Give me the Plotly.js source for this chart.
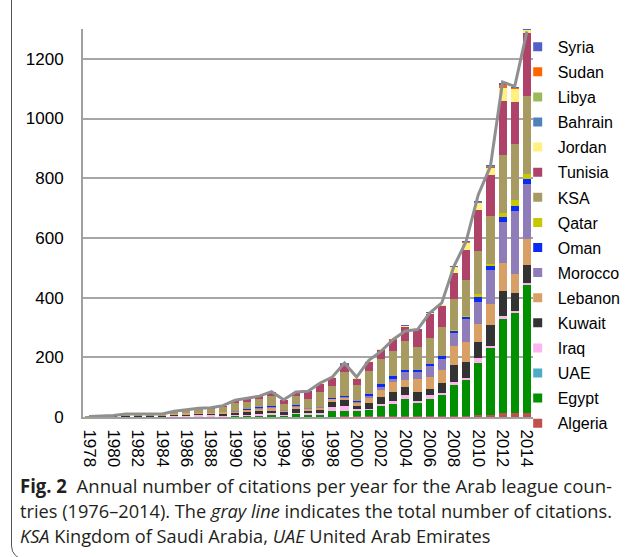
<!DOCTYPE html>
<html><head><meta charset="utf-8">
<script src="https://cdn.plot.ly/plotly-3.0.1.min.js"></script>
<style>
body{margin:0;background:#fff;}
#wrap{position:relative;width:625px;height:557px;overflow:hidden;background:#fff;}
#chart{position:absolute;left:0;top:0;width:625px;height:557px;}
#frame{position:absolute;left:11px;top:-30px;width:700px;height:590px;border:1.3px solid #555;border-radius:14px;box-sizing:border-box;pointer-events:none;}
.cap{position:absolute;left:20px;white-space:nowrap;font-family:"Open Sans","Noto Sans",sans-serif;font-size:19px;line-height:25px;color:#231f20;transform-origin:0 50%;}
.cap b{font-weight:700;}
</style></head>
<body>
<div id="wrap">
<div id="chart"></div>
<div id="frame"></div>
<div class="cap" id="c1" style="top:474px"><b>Fig. 2</b>&nbsp;&nbsp;Annual number of citations per year for the Arab league coun-</div>
<div class="cap" id="c2" style="top:499px">tries (1976–2014). The <i>gray line</i> indicates the total number of citations.</div>
<div class="cap" id="c3" style="top:524px"><i>KSA</i> Kingdom of Saudi Arabia, <i>UAE</i> United Arab Emirates</div>
</div>
<script>
var years = [1978,1979,1980,1981,1982,1983,1984,1985,1986,1987,1988,1989,1990,1991,1992,1993,1994,1995,1996,1997,1998,1999,2000,2001,2002,2003,2004,2005,2006,2007,2008,2009,2010,2011,2012,2013,2014];

var algeria = [0,0,0,0,0,0,0,0,0,0,0,0,0,0,1,1,1,1,1,1,1,4,3,3,5,3,3,3,3,3,4,5,7,7,13,12,12];
var egypt   = [0,0,0,0,0,0,0,1,1,0,0,1,2,3,4,5,3,10,6,6,20,16,18,19,31,40,56,45,58,70,104,119,173,223,316,335,430];
var uae     = [0,0,0,0,0,0,0,0,0,0,0,0,0,0,0,0,0,0,0,0,0,0,0,0,0,0,0,0,0,0,0,0,0,0,0,1,1];
var iraq    = [0,0,0,1,0,0,1,2,3,8,6,3,4,5,5,9,2,3,5,5,14,18,5,6,7,11,15,7,12,8,10,8,17,9,9,8,6];
var kuwait  = [1,1,2,3,3,3,2,3,3,2,3,6,6,8,10,6,10,12,8,10,16,18,11,19,25,30,28,30,22,34,56,53,53,69,85,59,61];
var lebanon = [0,0,1,2,2,2,3,4,5,4,5,6,6,6,8,10,5,8,6,7,8,7,9,18,22,33,22,41,39,42,64,67,62,69,93,65,86];
var morocco = [0,0,0,0,0,0,0,0,0,0,0,1,2,2,3,3,2,3,3,3,3,5,5,7,11,12,26,25,36,38,42,75,74,115,139,209,185];
var oman    = [0,0,0,0,0,0,0,0,0,0,0,0,1,2,1,2,0,2,1,2,1,2,3,4,8,7,6,7,7,9,9,7,17,13,14,17,16];
var qatar   = [0,0,0,0,0,0,0,0,0,0,0,0,0,0,0,0,0,0,0,0,0,0,0,0,0,0,0,0,0,0,4,4,9,8,14,20,18];
var ksa     = [1,2,2,3,3,3,4,8,11,13,14,17,26,25,28,35,20,30,32,50,40,81,52,78,84,85,97,78,89,96,104,121,144,160,196,189,261];
var tunisia = [0,0,0,1,2,1,0,1,2,2,3,4,8,10,9,12,14,13,22,28,28,27,23,30,33,36,50,55,80,71,86,100,137,137,181,142,210];
var jordan  = [0,0,0,0,0,0,0,0,0,0,0,0,1,1,1,1,1,1,1,1,2,1,2,3,2,2,3,2,3,3,20,23,25,25,43,41,12];
var bahrain = [0,0,0,0,0,0,0,0,0,0,0,0,0,0,0,0,0,0,0,0,0,1,0,0,0,0,0,0,0,0,0,0,1,2,1,1,0];
var libya   = [0,0,0,0,0,0,0,0,0,0,0,0,0,0,0,0,0,0,0,0,0,0,0,0,0,0,0,0,0,0,0,0,0,0,0,0,0];
var sudan   = [0,0,0,0,0,0,0,0,0,0,0,0,0,0,0,0,0,0,0,0,0,0,0,0,0,1,0,0,1,0,1,3,2,3,8,5,0];
var syria   = [0,0,0,0,0,0,0,0,0,0,0,0,0,0,0,1,0,1,1,1,1,1,1,1,1,1,1,1,2,2,2,5,4,5,7,3,1];

var totals  = [2,3,5,10,10,9,10,19,25,29,31,38,56,62,70,85,58,84,86,114,134,181,134,190,220,260,288,293,348,382,505,588,745,840,1122,1108,1292];

var seriesNames = ["Algeria","Egypt","UAE","Iraq","Kuwait","Lebanon","Morocco","Oman","Qatar","KSA","Tunisia","Jordan","Bahrain","Libya","Sudan","Syria"];
var seriesValues = [algeria,egypt,uae,iraq,kuwait,lebanon,morocco,oman,qatar,ksa,tunisia,jordan,bahrain,libya,sudan,syria];
var seriesColors = ["#C0504D","#009000","#4BACC6","#FFB6F0","#333333","#D9A066","#8E7DB8","#0A2BF5","#C8C800","#A89B62","#AE4268","#FFF080","#4F81BD","#9BBB59","#FF6600","#5060C8"];

var tickYears = years.filter(function(y){return y % 2 === 0;});
var FONT = 'Liberation Sans, Arial, sans-serif';

var traces = [];
seriesNames.forEach(function(n,i){
  traces.push({type:'bar', x:years, y:seriesValues[i], name:n, marker:{color:seriesColors[i], line:{width:0}}, showlegend:false});
});
// legend entries, top to bottom: Syria ... Algeria
for (var i = seriesNames.length - 1; i >= 0; i--) {
  traces.push({type:'scatter', mode:'markers', x:[null], y:[null], name:seriesNames[i], legendgroup:seriesNames[i],
    marker:{symbol:'square', size:9, color:seriesColors[i], line:{width:0}}, showlegend:true});
}
traces.push({type:'scatter', mode:'lines', x:years, y:totals, name:'Total', showlegend:false,
  line:{color:'#8f8f8f', width:3}});

var layout = {
  width:625, height:557,
  margin:{l:83, r:92, t:29, b:140, autoexpand:false},
  paper_bgcolor:'rgba(0,0,0,0)', plot_bgcolor:'rgba(0,0,0,0)',
  barmode:'stack', bargap:0.33,
  font:{family:FONT, size:17, color:'#000'},
  xaxis:{range:[1977.5,2014.5], tickvals:tickYears, ticktext:tickYears.map(String), tickangle:90,
    showgrid:false, zeroline:false, showline:true, linecolor:'#a0a0a0', linewidth:2, ticks:'', ticklabelstandoff:7,
    tickfont:{family:FONT, size:17, color:'#000'}},
  yaxis:{range:[0,1300], tickvals:[0,200,400,600,800,1000,1200], showgrid:true, gridcolor:'#a6a6a6', gridwidth:2,
    zeroline:false, showline:true, linecolor:'#a0a0a0', linewidth:2, ticks:'', ticklabelstandoff:14,
    tickfont:{family:FONT, size:17, color:'#000'}},
  legend:{x:0.966, xanchor:'left', y:0.998, yanchor:'top', traceorder:'grouped', tracegroupgap:1.3,
    maxheight:600, font:{family:FONT, size:16, color:'#000'}, bgcolor:'rgba(0,0,0,0)', borderwidth:0, itemwidth:30},
  showlegend:true
};

Plotly.newPlot('chart', traces, layout, {displayModeBar:false, staticPlot:true}).then(function(){
  function fit(id, target){
    var el = document.getElementById(id);
    var w = el.getBoundingClientRect().width;
    var s = target / w;
    el.style.transform = 'scaleX(' + s + ')';
    return s;
  }
  fit('c1', 592);
  var s2 = fit('c2', 592);
  document.getElementById('c3').style.transform = 'scaleX(' + s2 + ')';
});
</script>
</body></html>
